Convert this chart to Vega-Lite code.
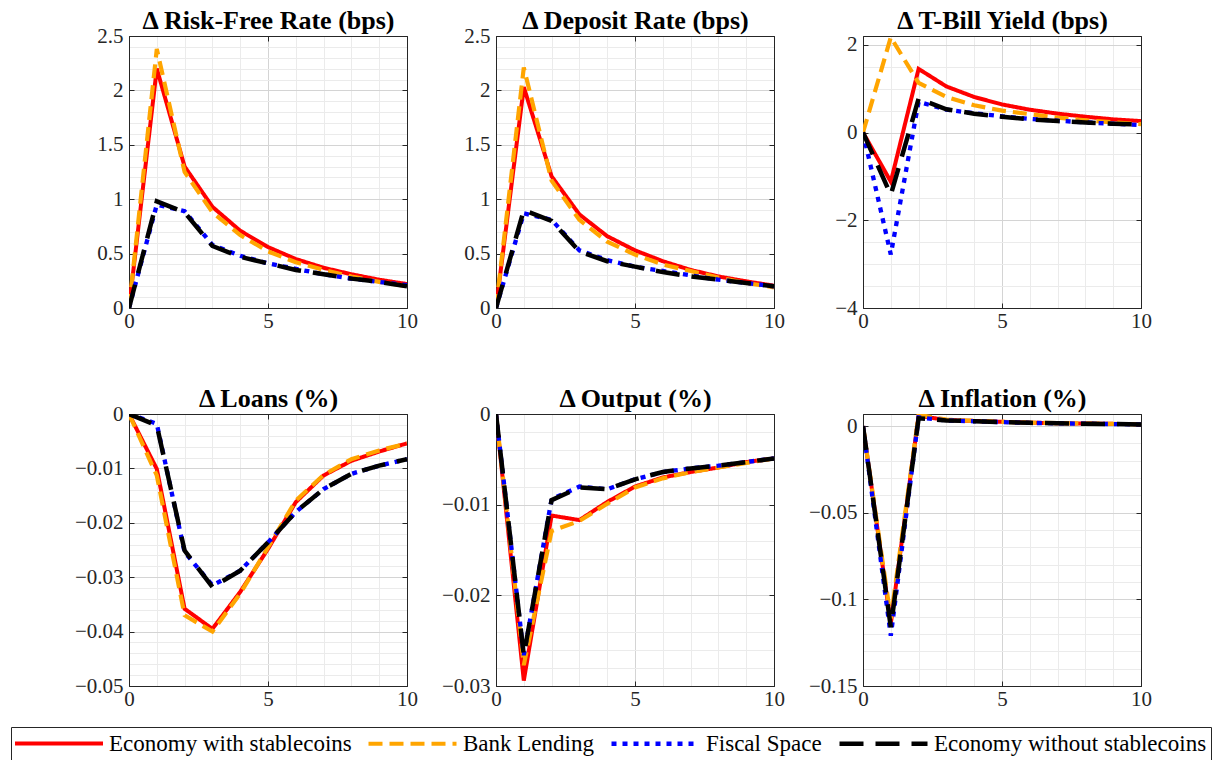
{
  "$schema": "https://vega.github.io/schema/vega-lite/v6.json",
  "padding": {"left": 10, "top": 7, "right": 5, "bottom": 2},
  "background": "white",
  "data": {"values": [
    {"p":"rf","x":0,"Economy with stablecoins":0,"Bank Lending":0,"Fiscal Space":0,"Economy without stablecoins":0},
    {"p":"rf","x":1,"Economy with stablecoins":2.2,"Bank Lending":2.38,"Fiscal Space":0.95,"Economy without stablecoins":0.98},
    {"p":"rf","x":2,"Economy with stablecoins":1.3,"Bank Lending":1.25,"Fiscal Space":0.89,"Economy without stablecoins":0.88},
    {"p":"rf","x":3,"Economy with stablecoins":0.93,"Bank Lending":0.88,"Fiscal Space":0.58,"Economy without stablecoins":0.57},
    {"p":"rf","x":4,"Economy with stablecoins":0.71,"Bank Lending":0.67,"Fiscal Space":0.48,"Economy without stablecoins":0.47},
    {"p":"rf","x":5,"Economy with stablecoins":0.56,"Bank Lending":0.52,"Fiscal Space":0.41,"Economy without stablecoins":0.41},
    {"p":"rf","x":6,"Economy with stablecoins":0.45,"Bank Lending":0.42,"Fiscal Space":0.36,"Economy without stablecoins":0.35},
    {"p":"rf","x":7,"Economy with stablecoins":0.37,"Bank Lending":0.35,"Fiscal Space":0.31,"Economy without stablecoins":0.31},
    {"p":"rf","x":8,"Economy with stablecoins":0.31,"Bank Lending":0.29,"Fiscal Space":0.27,"Economy without stablecoins":0.27},
    {"p":"rf","x":9,"Economy with stablecoins":0.26,"Bank Lending":0.24,"Fiscal Space":0.24,"Economy without stablecoins":0.24},
    {"p":"rf","x":10,"Economy with stablecoins":0.22,"Bank Lending":0.2,"Fiscal Space":0.21,"Economy without stablecoins":0.2},
    {"p":"dr","x":0,"Economy with stablecoins":0,"Bank Lending":0,"Fiscal Space":0,"Economy without stablecoins":0},
    {"p":"dr","x":1,"Economy with stablecoins":2.03,"Bank Lending":2.21,"Fiscal Space":0.87,"Economy without stablecoins":0.9},
    {"p":"dr","x":2,"Economy with stablecoins":1.21,"Bank Lending":1.17,"Fiscal Space":0.81,"Economy without stablecoins":0.8},
    {"p":"dr","x":3,"Economy with stablecoins":0.86,"Bank Lending":0.81,"Fiscal Space":0.53,"Economy without stablecoins":0.52},
    {"p":"dr","x":4,"Economy with stablecoins":0.66,"Bank Lending":0.61,"Fiscal Space":0.44,"Economy without stablecoins":0.43},
    {"p":"dr","x":5,"Economy with stablecoins":0.53,"Bank Lending":0.49,"Fiscal Space":0.38,"Economy without stablecoins":0.38},
    {"p":"dr","x":6,"Economy with stablecoins":0.43,"Bank Lending":0.4,"Fiscal Space":0.34,"Economy without stablecoins":0.33},
    {"p":"dr","x":7,"Economy with stablecoins":0.35,"Bank Lending":0.34,"Fiscal Space":0.3,"Economy without stablecoins":0.29},
    {"p":"dr","x":8,"Economy with stablecoins":0.29,"Bank Lending":0.28,"Fiscal Space":0.26,"Economy without stablecoins":0.26},
    {"p":"dr","x":9,"Economy with stablecoins":0.245,"Bank Lending":0.23,"Fiscal Space":0.23,"Economy without stablecoins":0.23},
    {"p":"dr","x":10,"Economy with stablecoins":0.205,"Bank Lending":0.19,"Fiscal Space":0.2,"Economy without stablecoins":0.2},
    {"p":"tb","x":0,"Economy with stablecoins":0,"Bank Lending":0,"Fiscal Space":0,"Economy without stablecoins":0},
    {"p":"tb","x":1,"Economy with stablecoins":-1.12,"Bank Lending":2.17,"Fiscal Space":-2.78,"Economy without stablecoins":-1.42},
    {"p":"tb","x":2,"Economy with stablecoins":1.45,"Bank Lending":1.13,"Fiscal Space":0.7,"Economy without stablecoins":0.77},
    {"p":"tb","x":3,"Economy with stablecoins":1.05,"Bank Lending":0.81,"Fiscal Space":0.52,"Economy without stablecoins":0.53},
    {"p":"tb","x":4,"Economy with stablecoins":0.81,"Bank Lending":0.62,"Fiscal Space":0.44,"Economy without stablecoins":0.43},
    {"p":"tb","x":5,"Economy with stablecoins":0.64,"Bank Lending":0.5,"Fiscal Space":0.37,"Economy without stablecoins":0.36},
    {"p":"tb","x":6,"Economy with stablecoins":0.52,"Bank Lending":0.42,"Fiscal Space":0.31,"Economy without stablecoins":0.3},
    {"p":"tb","x":7,"Economy with stablecoins":0.43,"Bank Lending":0.34,"Fiscal Space":0.27,"Economy without stablecoins":0.26},
    {"p":"tb","x":8,"Economy with stablecoins":0.36,"Bank Lending":0.28,"Fiscal Space":0.23,"Economy without stablecoins":0.23},
    {"p":"tb","x":9,"Economy with stablecoins":0.3,"Bank Lending":0.23,"Fiscal Space":0.2,"Economy without stablecoins":0.2},
    {"p":"tb","x":10,"Economy with stablecoins":0.26,"Bank Lending":0.19,"Fiscal Space":0.17,"Economy without stablecoins":0.18},
    {"p":"ln","x":0,"Economy with stablecoins":0,"Bank Lending":0,"Fiscal Space":0,"Economy without stablecoins":0},
    {"p":"ln","x":1,"Economy with stablecoins":-0.0101,"Bank Lending":-0.0113,"Fiscal Space":-0.0018,"Economy without stablecoins":-0.0021},
    {"p":"ln","x":2,"Economy with stablecoins":-0.0358,"Bank Lending":-0.037,"Fiscal Space":-0.0254,"Economy without stablecoins":-0.0251},
    {"p":"ln","x":3,"Economy with stablecoins":-0.0395,"Bank Lending":-0.04,"Fiscal Space":-0.0315,"Economy without stablecoins":-0.0318},
    {"p":"ln","x":4,"Economy with stablecoins":-0.0327,"Bank Lending":-0.033,"Fiscal Space":-0.0288,"Economy without stablecoins":-0.0288},
    {"p":"ln","x":5,"Economy with stablecoins":-0.0248,"Bank Lending":-0.0245,"Fiscal Space":-0.0236,"Economy without stablecoins":-0.0236},
    {"p":"ln","x":6,"Economy with stablecoins":-0.0162,"Bank Lending":-0.0159,"Fiscal Space":-0.018,"Economy without stablecoins":-0.018},
    {"p":"ln","x":7,"Economy with stablecoins":-0.0113,"Bank Lending":-0.0112,"Fiscal Space":-0.0138,"Economy without stablecoins":-0.0138},
    {"p":"ln","x":8,"Economy with stablecoins":-0.0086,"Bank Lending":-0.0083,"Fiscal Space":-0.011,"Economy without stablecoins":-0.011},
    {"p":"ln","x":9,"Economy with stablecoins":-0.0069,"Bank Lending":-0.0067,"Fiscal Space":-0.0095,"Economy without stablecoins":-0.0095},
    {"p":"ln","x":10,"Economy with stablecoins":-0.0054,"Bank Lending":-0.0054,"Fiscal Space":-0.0083,"Economy without stablecoins":-0.0083},
    {"p":"op","x":0,"Economy with stablecoins":0,"Bank Lending":0,"Fiscal Space":0,"Economy without stablecoins":0},
    {"p":"op","x":1,"Economy with stablecoins":-0.0294,"Bank Lending":-0.0277,"Fiscal Space":-0.0266,"Economy without stablecoins":-0.0266},
    {"p":"op","x":2,"Economy with stablecoins":-0.0112,"Bank Lending":-0.0129,"Fiscal Space":-0.0094,"Economy without stablecoins":-0.0095},
    {"p":"op","x":3,"Economy with stablecoins":-0.0117,"Bank Lending":-0.0118,"Fiscal Space":-0.008,"Economy without stablecoins":-0.0081},
    {"p":"op","x":4,"Economy with stablecoins":-0.0097,"Bank Lending":-0.0099,"Fiscal Space":-0.0083,"Economy without stablecoins":-0.0083},
    {"p":"op","x":5,"Economy with stablecoins":-0.008,"Bank Lending":-0.0081,"Fiscal Space":-0.0072,"Economy without stablecoins":-0.0072},
    {"p":"op","x":6,"Economy with stablecoins":-0.007,"Bank Lending":-0.0071,"Fiscal Space":-0.0064,"Economy without stablecoins":-0.0064},
    {"p":"op","x":7,"Economy with stablecoins":-0.0064,"Bank Lending":-0.0064,"Fiscal Space":-0.006,"Economy without stablecoins":-0.006},
    {"p":"op","x":8,"Economy with stablecoins":-0.0059,"Bank Lending":-0.0059,"Fiscal Space":-0.0057,"Economy without stablecoins":-0.0057},
    {"p":"op","x":9,"Economy with stablecoins":-0.0053,"Bank Lending":-0.0054,"Fiscal Space":-0.0053,"Economy without stablecoins":-0.0053},
    {"p":"op","x":10,"Economy with stablecoins":-0.0049,"Bank Lending":-0.0049,"Fiscal Space":-0.0049,"Economy without stablecoins":-0.0049},
    {"p":"in","x":0,"Economy with stablecoins":0,"Bank Lending":0,"Fiscal Space":0,"Economy without stablecoins":0},
    {"p":"in","x":1,"Economy with stablecoins":-0.114,"Bank Lending":-0.111,"Fiscal Space":-0.121,"Economy without stablecoins":-0.116},
    {"p":"in","x":2,"Economy with stablecoins":0.006,"Bank Lending":0.0065,"Fiscal Space":0.005,"Economy without stablecoins":0.0045},
    {"p":"in","x":3,"Economy with stablecoins":0.0035,"Bank Lending":0.0038,"Fiscal Space":0.0033,"Economy without stablecoins":0.0033},
    {"p":"in","x":4,"Economy with stablecoins":0.003,"Bank Lending":0.003,"Fiscal Space":0.0028,"Economy without stablecoins":0.0028},
    {"p":"in","x":5,"Economy with stablecoins":0.0025,"Bank Lending":0.0025,"Fiscal Space":0.0023,"Economy without stablecoins":0.0023},
    {"p":"in","x":6,"Economy with stablecoins":0.002,"Bank Lending":0.002,"Fiscal Space":0.0019,"Economy without stablecoins":0.0019},
    {"p":"in","x":7,"Economy with stablecoins":0.0017,"Bank Lending":0.0017,"Fiscal Space":0.0016,"Economy without stablecoins":0.0016},
    {"p":"in","x":8,"Economy with stablecoins":0.0015,"Bank Lending":0.0015,"Fiscal Space":0.0014,"Economy without stablecoins":0.0014},
    {"p":"in","x":9,"Economy with stablecoins":0.0013,"Bank Lending":0.0013,"Fiscal Space":0.0012,"Economy without stablecoins":0.0012},
    {"p":"in","x":10,"Economy with stablecoins":0.0011,"Bank Lending":0.0011,"Fiscal Space":0.001,"Economy without stablecoins":0.001}
  ]},
  "columns": 3,
  "spacing": {"row": 106, "column": 89},
  "bounds": "flush",
  "concat": [
    {
      "width": 278, "height": 272,
      "transform": [{"filter": "datum.p === 'rf'"}, {"fold": ["Economy with stablecoins", "Bank Lending", "Fiscal Space", "Economy without stablecoins"], "as": ["series", "value"]}],
      "layer": [
        {"mark": {"type": "line", "clip": true},
         "encoding": {
           "x": {"field": "x", "type": "quantitative", "scale": {"domain": [0, 10], "nice": false, "zero": false},
                 "axis": {"title": null, "values": [0,1,2,3,4,5,6,7,8,9,10], "grid": true, "labelFlush": false, "labelOverlap": false, "labelFont": "Liberation Serif, Times New Roman, serif",
                          "gridColor": {"condition": {"test": "datum.value % 5 === 0", "value": "#d4d4d4"}, "value": "#ebebeb"},
                          "tickOpacity": {"condition": {"test": "datum.value % 5 === 0", "value": 1}, "value": 0},
                          "labelExpr": "datum.value % 5 === 0 ? format(datum.value, '~g') : ''"}},
           "y": {"field": "value", "type": "quantitative", "scale": {"domain": [0, 2.5], "nice": false, "zero": false},
                 "axis": {"title": null, "values": [0,0.1,0.2,0.3,0.4,0.5,0.6,0.7,0.8,0.9,1,1.1,1.2,1.3,1.4,1.5,1.6,1.7,1.8,1.9,2,2.1,2.2,2.3,2.4,2.5], "grid": true, "labelOverlap": false, "labelFont": "Liberation Serif, Times New Roman, serif",
                          "gridColor": {"condition": {"test": "abs(datum.value/0.5 - round(datum.value/0.5)) < 1e-6", "value": "#d4d4d4"}, "value": "#ebebeb"},
                          "tickOpacity": {"condition": {"test": "abs(datum.value/0.5 - round(datum.value/0.5)) < 1e-6", "value": 1}, "value": 0},
                          "labelExpr": "abs(datum.value/0.5 - round(datum.value/0.5)) < 1e-6 ? format(datum.value, '~g') : ''"}},
           "color": {"field": "series", "type": "nominal", "scale": {"domain": ["Economy with stablecoins", "Bank Lending", "Fiscal Space", "Economy without stablecoins"], "range": ["#ff0000", "#ffa500", "#0000ff", "#000000"]}, "legend": {"symbolType": "M-4.4,0H4.4", "labelFont": "Liberation Serif, Times New Roman, serif"}},
           "strokeDash": {"field": "series", "type": "nominal", "scale": {"domain": ["Economy with stablecoins", "Bank Lending", "Fiscal Space", "Economy without stablecoins"], "range": [[1,0],[14,7],[5,6],[24,12]]}, "legend": {"symbolType": "M-4.4,0H4.4", "labelFont": "Liberation Serif, Times New Roman, serif"}},
           "strokeWidth": {"field": "series", "type": "ordinal", "scale": {"domain": ["Economy with stablecoins", "Bank Lending", "Fiscal Space", "Economy without stablecoins"], "range": [4, 4.5, 4, 5.5]}, "legend": null}
         }},
        {"mark": {"type": "line", "opacity": 0},
         "encoding": {
           "x": {"field": "x", "type": "quantitative", "axis": {"orient": "top", "title": "Δ Risk-Free Rate (bps)", "titleFont": "Liberation Serif, Times New Roman, serif", "values": [0,5,10], "labels": false, "grid": false}},
           "y": {"field": "value", "type": "quantitative", "axis": {"orient": "right", "title": null, "values": [0,0.5,1,1.5,2,2.5], "labels": false, "grid": false}}
         }}
      ],
      "resolve": {"axis": {"x": "independent", "y": "independent"}}
    },
    {
      "width": 278, "height": 272,
      "transform": [{"filter": "datum.p === 'dr'"}, {"fold": ["Economy with stablecoins", "Bank Lending", "Fiscal Space", "Economy without stablecoins"], "as": ["series", "value"]}],
      "layer": [
        {"mark": {"type": "line", "clip": true},
         "encoding": {
           "x": {"field": "x", "type": "quantitative", "scale": {"domain": [0, 10], "nice": false, "zero": false},
                 "axis": {"title": null, "values": [0,1,2,3,4,5,6,7,8,9,10], "grid": true, "labelFlush": false, "labelOverlap": false, "labelFont": "Liberation Serif, Times New Roman, serif",
                          "gridColor": {"condition": {"test": "datum.value % 5 === 0", "value": "#d4d4d4"}, "value": "#ebebeb"},
                          "tickOpacity": {"condition": {"test": "datum.value % 5 === 0", "value": 1}, "value": 0},
                          "labelExpr": "datum.value % 5 === 0 ? format(datum.value, '~g') : ''"}},
           "y": {"field": "value", "type": "quantitative", "scale": {"domain": [0, 2.5], "nice": false, "zero": false},
                 "axis": {"title": null, "values": [0,0.1,0.2,0.3,0.4,0.5,0.6,0.7,0.8,0.9,1,1.1,1.2,1.3,1.4,1.5,1.6,1.7,1.8,1.9,2,2.1,2.2,2.3,2.4,2.5], "grid": true, "labelOverlap": false, "labelFont": "Liberation Serif, Times New Roman, serif",
                          "gridColor": {"condition": {"test": "abs(datum.value/0.5 - round(datum.value/0.5)) < 1e-6", "value": "#d4d4d4"}, "value": "#ebebeb"},
                          "tickOpacity": {"condition": {"test": "abs(datum.value/0.5 - round(datum.value/0.5)) < 1e-6", "value": 1}, "value": 0},
                          "labelExpr": "abs(datum.value/0.5 - round(datum.value/0.5)) < 1e-6 ? format(datum.value, '~g') : ''"}},
           "color": {"field": "series", "type": "nominal", "scale": {"domain": ["Economy with stablecoins", "Bank Lending", "Fiscal Space", "Economy without stablecoins"], "range": ["#ff0000", "#ffa500", "#0000ff", "#000000"]}, "legend": {"symbolType": "M-4.4,0H4.4", "labelFont": "Liberation Serif, Times New Roman, serif"}},
           "strokeDash": {"field": "series", "type": "nominal", "scale": {"domain": ["Economy with stablecoins", "Bank Lending", "Fiscal Space", "Economy without stablecoins"], "range": [[1,0],[14,7],[5,6],[24,12]]}, "legend": {"symbolType": "M-4.4,0H4.4", "labelFont": "Liberation Serif, Times New Roman, serif"}},
           "strokeWidth": {"field": "series", "type": "ordinal", "scale": {"domain": ["Economy with stablecoins", "Bank Lending", "Fiscal Space", "Economy without stablecoins"], "range": [4, 4.5, 4, 5.5]}, "legend": null}
         }},
        {"mark": {"type": "line", "opacity": 0},
         "encoding": {
           "x": {"field": "x", "type": "quantitative", "axis": {"orient": "top", "title": "Δ Deposit Rate (bps)", "titleFont": "Liberation Serif, Times New Roman, serif", "values": [0,5,10], "labels": false, "grid": false}},
           "y": {"field": "value", "type": "quantitative", "axis": {"orient": "right", "title": null, "values": [0,0.5,1,1.5,2,2.5], "labels": false, "grid": false}}
         }}
      ],
      "resolve": {"axis": {"x": "independent", "y": "independent"}}
    },
    {
      "width": 278, "height": 272,
      "transform": [{"filter": "datum.p === 'tb'"}, {"fold": ["Economy with stablecoins", "Bank Lending", "Fiscal Space", "Economy without stablecoins"], "as": ["series", "value"]}],
      "layer": [
        {"mark": {"type": "line", "clip": true},
         "encoding": {
           "x": {"field": "x", "type": "quantitative", "scale": {"domain": [0, 10], "nice": false, "zero": false},
                 "axis": {"title": null, "values": [0,1,2,3,4,5,6,7,8,9,10], "grid": true, "labelFlush": false, "labelOverlap": false, "labelFont": "Liberation Serif, Times New Roman, serif",
                          "gridColor": {"condition": {"test": "datum.value % 5 === 0", "value": "#d4d4d4"}, "value": "#ebebeb"},
                          "tickOpacity": {"condition": {"test": "datum.value % 5 === 0", "value": 1}, "value": 0},
                          "labelExpr": "datum.value % 5 === 0 ? format(datum.value, '~g') : ''"}},
           "y": {"field": "value", "type": "quantitative", "scale": {"domain": [-4, 2.2], "nice": false, "zero": false},
                 "axis": {"title": null, "values": [-4,-3.5,-3,-2.5,-2,-1.5,-1,-0.5,0,0.5,1,1.5,2], "grid": true, "labelOverlap": false, "labelFont": "Liberation Serif, Times New Roman, serif",
                          "gridColor": {"condition": {"test": "abs(datum.value/2 - round(datum.value/2)) < 1e-6", "value": "#d4d4d4"}, "value": "#ebebeb"},
                          "tickOpacity": {"condition": {"test": "abs(datum.value/2 - round(datum.value/2)) < 1e-6", "value": 1}, "value": 0},
                          "labelExpr": "abs(datum.value/2 - round(datum.value/2)) < 1e-6 ? format(datum.value, '~g') : ''"}},
           "color": {"field": "series", "type": "nominal", "scale": {"domain": ["Economy with stablecoins", "Bank Lending", "Fiscal Space", "Economy without stablecoins"], "range": ["#ff0000", "#ffa500", "#0000ff", "#000000"]}, "legend": {"symbolType": "M-4.4,0H4.4", "labelFont": "Liberation Serif, Times New Roman, serif"}},
           "strokeDash": {"field": "series", "type": "nominal", "scale": {"domain": ["Economy with stablecoins", "Bank Lending", "Fiscal Space", "Economy without stablecoins"], "range": [[1,0],[14,7],[5,6],[24,12]]}, "legend": {"symbolType": "M-4.4,0H4.4", "labelFont": "Liberation Serif, Times New Roman, serif"}},
           "strokeWidth": {"field": "series", "type": "ordinal", "scale": {"domain": ["Economy with stablecoins", "Bank Lending", "Fiscal Space", "Economy without stablecoins"], "range": [4, 4.5, 4, 5.5]}, "legend": null}
         }},
        {"mark": {"type": "line", "opacity": 0},
         "encoding": {
           "x": {"field": "x", "type": "quantitative", "axis": {"orient": "top", "title": "Δ T-Bill Yield (bps)", "titleFont": "Liberation Serif, Times New Roman, serif", "values": [0,5,10], "labels": false, "grid": false}},
           "y": {"field": "value", "type": "quantitative", "axis": {"orient": "right", "title": null, "values": [-4,-2,0,2], "labels": false, "grid": false}}
         }}
      ],
      "resolve": {"axis": {"x": "independent", "y": "independent"}}
    },
    {
      "width": 278, "height": 272,
      "transform": [{"filter": "datum.p === 'ln'"}, {"fold": ["Economy with stablecoins", "Bank Lending", "Fiscal Space", "Economy without stablecoins"], "as": ["series", "value"]}],
      "layer": [
        {"mark": {"type": "line", "clip": true},
         "encoding": {
           "x": {"field": "x", "type": "quantitative", "scale": {"domain": [0, 10], "nice": false, "zero": false},
                 "axis": {"title": null, "values": [0,1,2,3,4,5,6,7,8,9,10], "grid": true, "labelFlush": false, "labelOverlap": false, "labelFont": "Liberation Serif, Times New Roman, serif",
                          "gridColor": {"condition": {"test": "datum.value % 5 === 0", "value": "#d4d4d4"}, "value": "#ebebeb"},
                          "tickOpacity": {"condition": {"test": "datum.value % 5 === 0", "value": 1}, "value": 0},
                          "labelExpr": "datum.value % 5 === 0 ? format(datum.value, '~g') : ''"}},
           "y": {"field": "value", "type": "quantitative", "scale": {"domain": [-0.05, 0], "nice": false, "zero": false},
                 "axis": {"title": null, "values": [-0.05,-0.048,-0.046,-0.044,-0.042,-0.04,-0.038,-0.036,-0.034,-0.032,-0.03,-0.028,-0.026,-0.024,-0.022,-0.02,-0.018,-0.016,-0.014,-0.012,-0.01,-0.008,-0.006,-0.004,-0.002,0], "grid": true, "labelOverlap": false, "labelFont": "Liberation Serif, Times New Roman, serif",
                          "gridColor": {"condition": {"test": "abs(datum.value/0.01 - round(datum.value/0.01)) < 1e-6", "value": "#d4d4d4"}, "value": "#ebebeb"},
                          "tickOpacity": {"condition": {"test": "abs(datum.value/0.01 - round(datum.value/0.01)) < 1e-6", "value": 1}, "value": 0},
                          "labelExpr": "abs(datum.value/0.01 - round(datum.value/0.01)) < 1e-6 ? format(datum.value, '~g') : ''"}},
           "color": {"field": "series", "type": "nominal", "scale": {"domain": ["Economy with stablecoins", "Bank Lending", "Fiscal Space", "Economy without stablecoins"], "range": ["#ff0000", "#ffa500", "#0000ff", "#000000"]}, "legend": {"symbolType": "M-4.4,0H4.4", "labelFont": "Liberation Serif, Times New Roman, serif"}},
           "strokeDash": {"field": "series", "type": "nominal", "scale": {"domain": ["Economy with stablecoins", "Bank Lending", "Fiscal Space", "Economy without stablecoins"], "range": [[1,0],[14,7],[5,6],[24,12]]}, "legend": {"symbolType": "M-4.4,0H4.4", "labelFont": "Liberation Serif, Times New Roman, serif"}},
           "strokeWidth": {"field": "series", "type": "ordinal", "scale": {"domain": ["Economy with stablecoins", "Bank Lending", "Fiscal Space", "Economy without stablecoins"], "range": [4, 4.5, 4, 5.5]}, "legend": null}
         }},
        {"mark": {"type": "line", "opacity": 0},
         "encoding": {
           "x": {"field": "x", "type": "quantitative", "axis": {"orient": "top", "title": "Δ Loans (%)", "titleFont": "Liberation Serif, Times New Roman, serif", "values": [0,5,10], "labels": false, "grid": false}},
           "y": {"field": "value", "type": "quantitative", "axis": {"orient": "right", "title": null, "values": [-0.05,-0.04,-0.03,-0.02,-0.01,0], "labels": false, "grid": false}}
         }}
      ],
      "resolve": {"axis": {"x": "independent", "y": "independent"}}
    },
    {
      "width": 278, "height": 272,
      "transform": [{"filter": "datum.p === 'op'"}, {"fold": ["Economy with stablecoins", "Bank Lending", "Fiscal Space", "Economy without stablecoins"], "as": ["series", "value"]}],
      "layer": [
        {"mark": {"type": "line", "clip": true},
         "encoding": {
           "x": {"field": "x", "type": "quantitative", "scale": {"domain": [0, 10], "nice": false, "zero": false},
                 "axis": {"title": null, "values": [0,1,2,3,4,5,6,7,8,9,10], "grid": true, "labelFlush": false, "labelOverlap": false, "labelFont": "Liberation Serif, Times New Roman, serif",
                          "gridColor": {"condition": {"test": "datum.value % 5 === 0", "value": "#d4d4d4"}, "value": "#ebebeb"},
                          "tickOpacity": {"condition": {"test": "datum.value % 5 === 0", "value": 1}, "value": 0},
                          "labelExpr": "datum.value % 5 === 0 ? format(datum.value, '~g') : ''"}},
           "y": {"field": "value", "type": "quantitative", "scale": {"domain": [-0.03, 0], "nice": false, "zero": false},
                 "axis": {"title": null, "values": [-0.03,-0.028,-0.026,-0.024,-0.022,-0.02,-0.018,-0.016,-0.014,-0.012,-0.01,-0.008,-0.006,-0.004,-0.002,0], "grid": true, "labelOverlap": false, "labelFont": "Liberation Serif, Times New Roman, serif",
                          "gridColor": {"condition": {"test": "abs(datum.value/0.01 - round(datum.value/0.01)) < 1e-6", "value": "#d4d4d4"}, "value": "#ebebeb"},
                          "tickOpacity": {"condition": {"test": "abs(datum.value/0.01 - round(datum.value/0.01)) < 1e-6", "value": 1}, "value": 0},
                          "labelExpr": "abs(datum.value/0.01 - round(datum.value/0.01)) < 1e-6 ? format(datum.value, '~g') : ''"}},
           "color": {"field": "series", "type": "nominal", "scale": {"domain": ["Economy with stablecoins", "Bank Lending", "Fiscal Space", "Economy without stablecoins"], "range": ["#ff0000", "#ffa500", "#0000ff", "#000000"]}, "legend": {"symbolType": "M-4.4,0H4.4", "labelFont": "Liberation Serif, Times New Roman, serif"}},
           "strokeDash": {"field": "series", "type": "nominal", "scale": {"domain": ["Economy with stablecoins", "Bank Lending", "Fiscal Space", "Economy without stablecoins"], "range": [[1,0],[14,7],[5,6],[24,12]]}, "legend": {"symbolType": "M-4.4,0H4.4", "labelFont": "Liberation Serif, Times New Roman, serif"}},
           "strokeWidth": {"field": "series", "type": "ordinal", "scale": {"domain": ["Economy with stablecoins", "Bank Lending", "Fiscal Space", "Economy without stablecoins"], "range": [4, 4.5, 4, 5.5]}, "legend": null}
         }},
        {"mark": {"type": "line", "opacity": 0},
         "encoding": {
           "x": {"field": "x", "type": "quantitative", "axis": {"orient": "top", "title": "Δ Output (%)", "titleFont": "Liberation Serif, Times New Roman, serif", "values": [0,5,10], "labels": false, "grid": false}},
           "y": {"field": "value", "type": "quantitative", "axis": {"orient": "right", "title": null, "values": [-0.03,-0.02,-0.01,0], "labels": false, "grid": false}}
         }}
      ],
      "resolve": {"axis": {"x": "independent", "y": "independent"}}
    },
    {
      "width": 278, "height": 272,
      "transform": [{"filter": "datum.p === 'in'"}, {"fold": ["Economy with stablecoins", "Bank Lending", "Fiscal Space", "Economy without stablecoins"], "as": ["series", "value"]}],
      "layer": [
        {"mark": {"type": "line", "clip": true},
         "encoding": {
           "x": {"field": "x", "type": "quantitative", "scale": {"domain": [0, 10], "nice": false, "zero": false},
                 "axis": {"title": null, "values": [0,1,2,3,4,5,6,7,8,9,10], "grid": true, "labelFlush": false, "labelOverlap": false, "labelFont": "Liberation Serif, Times New Roman, serif",
                          "gridColor": {"condition": {"test": "datum.value % 5 === 0", "value": "#d4d4d4"}, "value": "#ebebeb"},
                          "tickOpacity": {"condition": {"test": "datum.value % 5 === 0", "value": 1}, "value": 0},
                          "labelExpr": "datum.value % 5 === 0 ? format(datum.value, '~g') : ''"}},
           "y": {"field": "value", "type": "quantitative", "scale": {"domain": [-0.15, 0.007], "nice": false, "zero": false},
                 "axis": {"title": null, "values": [-0.15,-0.14,-0.13,-0.12,-0.11,-0.1,-0.09,-0.08,-0.07,-0.06,-0.05,-0.04,-0.03,-0.02,-0.01,0], "grid": true, "labelOverlap": false, "labelFont": "Liberation Serif, Times New Roman, serif",
                          "gridColor": {"condition": {"test": "abs(datum.value/0.05 - round(datum.value/0.05)) < 1e-6", "value": "#d4d4d4"}, "value": "#ebebeb"},
                          "tickOpacity": {"condition": {"test": "abs(datum.value/0.05 - round(datum.value/0.05)) < 1e-6", "value": 1}, "value": 0},
                          "labelExpr": "abs(datum.value/0.05 - round(datum.value/0.05)) < 1e-6 ? format(datum.value, '~g') : ''"}},
           "color": {"field": "series", "type": "nominal", "scale": {"domain": ["Economy with stablecoins", "Bank Lending", "Fiscal Space", "Economy without stablecoins"], "range": ["#ff0000", "#ffa500", "#0000ff", "#000000"]}, "legend": {"symbolType": "M-4.4,0H4.4", "labelFont": "Liberation Serif, Times New Roman, serif"}},
           "strokeDash": {"field": "series", "type": "nominal", "scale": {"domain": ["Economy with stablecoins", "Bank Lending", "Fiscal Space", "Economy without stablecoins"], "range": [[1,0],[14,7],[5,6],[24,12]]}, "legend": {"symbolType": "M-4.4,0H4.4", "labelFont": "Liberation Serif, Times New Roman, serif"}},
           "strokeWidth": {"field": "series", "type": "ordinal", "scale": {"domain": ["Economy with stablecoins", "Bank Lending", "Fiscal Space", "Economy without stablecoins"], "range": [4, 4.5, 4, 5.5]}, "legend": null}
         }},
        {"mark": {"type": "line", "opacity": 0},
         "encoding": {
           "x": {"field": "x", "type": "quantitative", "axis": {"orient": "top", "title": "Δ Inflation (%)", "titleFont": "Liberation Serif, Times New Roman, serif", "values": [0,5,10], "labels": false, "grid": false}},
           "y": {"field": "value", "type": "quantitative", "axis": {"orient": "right", "title": null, "values": [-0.15,-0.1,-0.05,0], "labels": false, "grid": false}}
         }}
      ],
      "resolve": {"axis": {"x": "independent", "y": "independent"}}
    }
  ],
  "config": {
    "font": "Liberation Serif, Times New Roman, serif",
    "view": {"stroke": "#262626", "strokeWidth": 1},
    "axis": {"labelFont": "Liberation Serif, Times New Roman, serif", "labelFontSize": 21, "labelColor": "#262626", "tickColor": "#262626", "tickSize": -5, "tickWidth": 1, "domain": true, "domainColor": "#262626", "domainWidth": 1, "gridWidth": 1},
    "axisX": {"labelPadding": 7},
    "axisY": {"labelPadding": 11},
    "axisTop": {"titleFont": "Liberation Serif, Times New Roman, serif", "titleFontSize": 26, "titleFontWeight": "bold", "titleColor": "#000000", "titlePadding": 7, "titleBaseline": "alphabetic"},
    "legend": {"orient": "none", "legendX": -118, "legendY": 691, "direction": "horizontal", "title": null,
               "symbolSize": 400, "symbolStrokeWidth": 4, "symbolOffset": 32, "labelOffset": 38, "columnPadding": 8,
               "padding": 4, "strokeColor": "#262626", "fillColor": "white",
               "labelFont": "Liberation Serif, Times New Roman, serif", "labelFontSize": 23, "labelColor": "#000000", "labelLimit": 500}
  }
}
